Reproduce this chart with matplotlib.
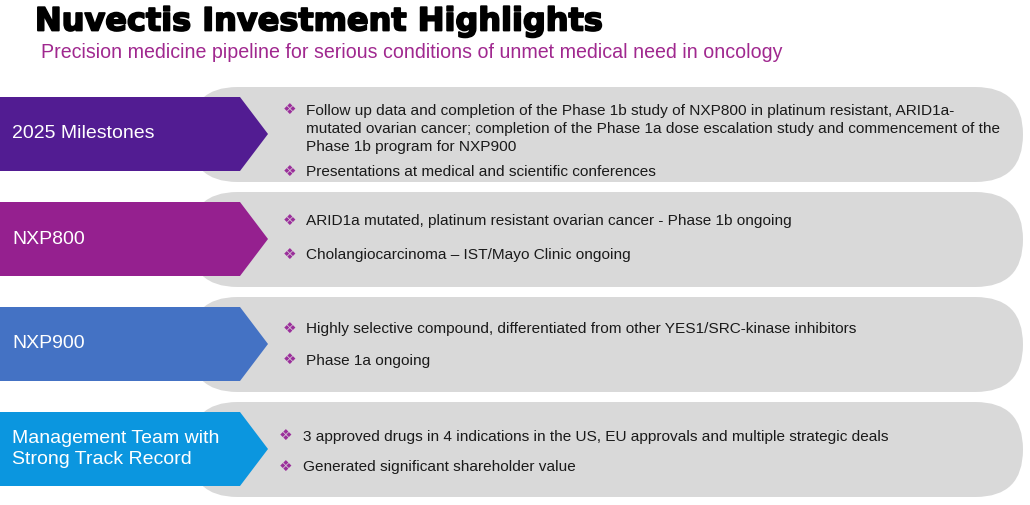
import matplotlib
matplotlib.use("Agg")
import matplotlib.pyplot as plt
import matplotlib.patheffects as pe
from matplotlib.patches import FancyBboxPatch, Polygon

TITLE = "Nuvectis Investment Highlights"
SUBTITLE = "Precision medicine pipeline for serious conditions of unmet medical need in oncology"

LABELS = ["2025 Milestones", "NXP800", "NXP900", "Management Team with\nStrong Track Record"]
BULLETS = [
    ["Follow up data and completion of the Phase 1b study of NXP800 in platinum resistant, ARID1a-\n"
     "mutated ovarian cancer; completion of the Phase 1a dose escalation study and commencement of the\n"
     "Phase 1b program for NXP900",
     "Presentations at medical and scientific conferences"],
    ["ARID1a mutated, platinum resistant ovarian cancer - Phase 1b ongoing",
     "Cholangiocarcinoma \u2013 IST/Mayo Clinic ongoing"],
    ["Highly selective compound, differentiated from other YES1/SRC-kinase inhibitors",
     "Phase 1a ongoing"],
    ["3 approved drugs in 4 indications in the US, EU approvals and multiple strategic deals",
     "Generated significant shareholder value"],
]
# y of the first line of each bullet (pixel rows) per band
BULLET_Y = [[109, 171], [220, 254], [328, 359], [435, 466]]

COLORS = ["#521C92", "#95208F", "#4472C4", "#0B96DF"]
GREY = "#D9D9D9"
BUL_C = "#9B2F9B"
LINE_H = 18.5

fig = plt.figure(figsize=(10.3, 5.05), dpi=100)
ax = fig.add_axes([0, 0, 1, 1])
ax.set_xlim(0, 1030); ax.set_ylim(505, 0); ax.axis("off")

ax.text(35, 22, TITLE, fontsize=23, fontweight="bold", family="DejaVu Sans",
        va="center", ha="left", color="black",
        path_effects=[pe.withStroke(linewidth=1.3, foreground="black")])
ax.text(41, 52, SUBTITLE, fontsize=14.15, family="Liberation Sans",
        va="center", ha="left", color="#A0288F")

for i, lab in enumerate(LABELS):
    top = 87 + 105 * i
    h = 95
    ax.add_patch(FancyBboxPatch((190, top), 1023 - 190, h,
                                boxstyle="round,pad=0,rounding_size=%f" % (h / 2),
                                fc=GREY, ec="none", zorder=1))
    at, ah = top + 10, 74
    ax.add_patch(Polygon([(0, at), (240, at), (268, at + ah / 2), (240, at + ah), (0, at + ah)],
                         closed=True, fc=COLORS[i], ec="none", zorder=2))
    ax.text(12, at + ah / 2, lab, fontsize=14, family="Liberation Sans", color="white",
            va="center", ha="left", linespacing=1.35, zorder=3)
    bx = 290 if i < 3 else 286
    tx = 306 if i < 3 else 303
    for txt, y in zip(BULLETS[i], BULLET_Y[i]):
        ax.text(bx, y + 0.5, "\u2756", fontsize=11, color=BUL_C,
                family="DejaVu Sans", va="center", ha="center", zorder=3)
        for k, line in enumerate(txt.split("\n")):
            ax.text(tx, y + 5.5 + k * LINE_H, line, fontsize=11.05, family="Liberation Sans",
                    color="#1A1A1A", va="baseline", ha="left", zorder=3)

fig.savefig("out.png", dpi=100)
